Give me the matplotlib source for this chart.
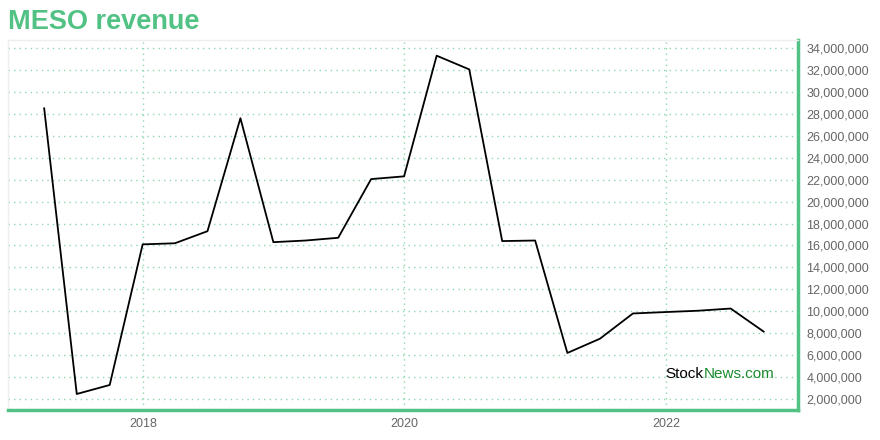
import pandas as pd
import matplotlib.pyplot as plt
import matplotlib.dates as mdates
from matplotlib.ticker import FuncFormatter, MultipleLocator

plt.rcParams["font.family"] = ["Liberation Sans", "DejaVu Sans"]

# Datos (ingresos trimestrales)
fechas = pd.to_datetime([
    "2017-03-31", "2017-06-30", "2017-09-30", "2017-12-31",
    "2018-03-31", "2018-06-30", "2018-09-30", "2018-12-31",
    "2019-03-31", "2019-06-30", "2019-09-30", "2019-12-31",
    "2020-03-31", "2020-06-30", "2020-09-30", "2020-12-31",
    "2021-03-31", "2021-06-30", "2021-09-30", "2021-12-31",
    "2022-03-31", "2022-06-30", "2022-09-30",
])
ingresos = [
    28500000, 2460000, 3280000, 16100000,
    16200000, 17300000, 27600000, 16300000,
    16450000, 16700000, 22050000, 22300000,
    33300000, 32050000, 16400000, 16450000,
    6200000, 7500000, 9800000, 9930000,
    10050000, 10250000, 8150000,
]
anios_ticks = ["2018", "2020", "2022"]

verde = "#52c284"
gris = "#666666"

fig = plt.figure(figsize=(8.8, 4.4), dpi=100)
ax = fig.add_axes([8 / 880, 30 / 440, 790 / 880, 370 / 440])

ax.plot(fechas, ingresos, color="black", linewidth=1.3)

ax.set_xlim(pd.Timestamp("2016-12-20"), pd.Timestamp("2023-01-04"))
ax.set_ylim(1000000, 34730000)

ax.set_xticks(pd.to_datetime([a + "-01-01" for a in anios_ticks]))
ax.xaxis.set_major_formatter(mdates.DateFormatter("%Y"))
ax.yaxis.set_major_locator(MultipleLocator(2000000))
ax.yaxis.set_major_formatter(FuncFormatter(lambda v, p: f"{int(v):,}"))
ax.yaxis.tick_right()

ax.tick_params(axis="both", length=0, labelsize=9, labelcolor=gris)
ax.tick_params(axis="y", pad=6)
ax.tick_params(axis="x", pad=6)

ax.grid(True, color="#8fd8b0", linestyle=(0, (1, 3)), linewidth=1)

for lado in ["top", "left"]:
    ax.spines[lado].set_color("#eeeeee")
    ax.spines[lado].set_linewidth(1)
for lado in ["right", "bottom"]:
    ax.spines[lado].set_color(verde)
    ax.spines[lado].set_linewidth(2.5)

fig.text(8 / 880, 1 - 22 / 440, "MESO revenue", color=verde, fontsize=19.5,
         fontweight="bold", va="center", ha="left")

# Marca de agua
t1 = ax.text(0.832, 0.097, "Stock", transform=ax.transAxes, color="black",
             fontsize=11, va="center", ha="left")
fig.canvas.draw()
bb = t1.get_window_extent().transformed(ax.transAxes.inverted())
ax.text(bb.x1, 0.097, "News.com", transform=ax.transAxes, color="#1a8a2e",
        fontsize=11, va="center", ha="left")

fig.savefig("out.png", dpi=100)
